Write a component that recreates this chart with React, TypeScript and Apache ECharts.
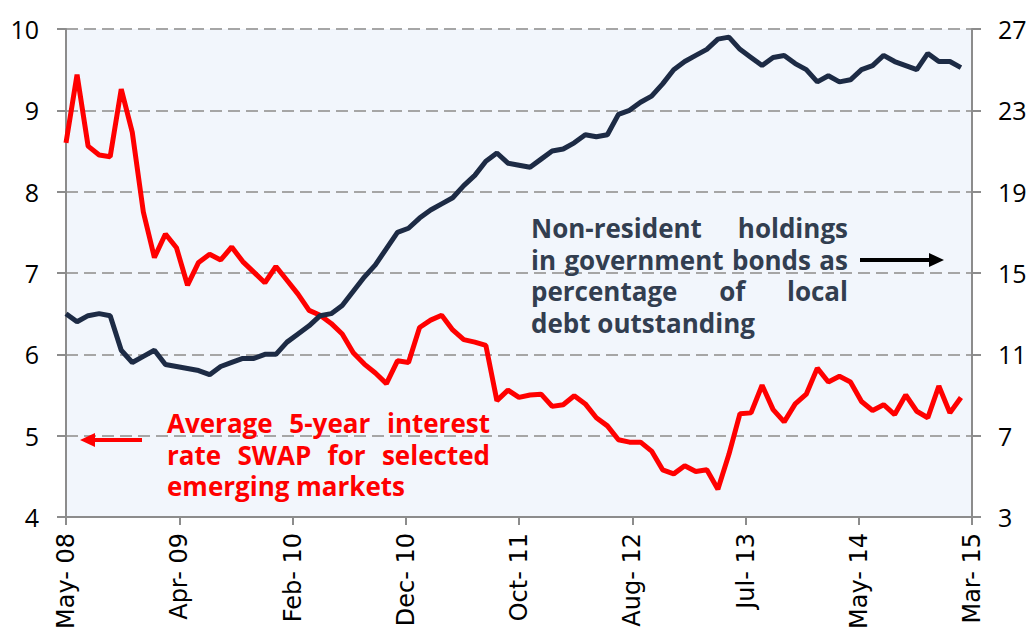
import React, { useEffect, useRef } from "react";
import * as echarts from "echarts";

// x: months since May 2008 (0 = May-08, 81 = Feb-15); axis ends at Mar-15 (82)
const xTickLabels = ["May- 08", "Apr- 09", "Feb- 10", "Dec- 10", "Oct- 11", "Aug- 12", "Jul- 13", "May- 14", "Mar- 15"];
const xTickStep = 10.25;

// Average 5-year interest rate swap (left axis, %)
const swapRate = [
  8.6, 9.44, 8.56, 8.45, 8.43, 9.26, 8.73, 7.75, 7.19, 7.48,
  7.31, 6.85, 7.13, 7.23, 7.16, 7.32, 7.14, 7.01, 6.88, 7.08,
  6.91, 6.74, 6.54, 6.48, 6.38, 6.25, 6.02, 5.88, 5.77, 5.64,
  5.92, 5.9, 6.33, 6.42, 6.48, 6.3, 6.18, 6.15, 6.11, 5.43,
  5.56, 5.47, 5.5, 5.51, 5.36, 5.38, 5.49, 5.39, 5.22, 5.12,
  4.95, 4.92, 4.92, 4.81, 4.58, 4.53, 4.63, 4.56, 4.58, 4.34,
  4.77, 5.27, 5.28, 5.62, 5.32, 5.17, 5.39, 5.51, 5.83, 5.66,
  5.73, 5.66, 5.42, 5.31, 5.38, 5.26, 5.5, 5.3, 5.22, 5.61,
  5.28, 5.47,
];

// Non-resident holdings of local government bonds (right axis, %)
const nonResidentHoldings = [
  13.0, 12.6, 12.9, 13.0, 12.9, 11.2, 10.6, 10.9, 11.2, 10.5,
  10.4, 10.3, 10.2, 10.0, 10.4, 10.6, 10.8, 10.8, 11.0, 11.0,
  11.6, 12.0, 12.4, 12.9, 13.0, 13.4, 14.1, 14.8, 15.4, 16.2,
  17.0, 17.2, 17.7, 18.1, 18.4, 18.7, 19.3, 19.8, 20.5, 20.9,
  20.4, 20.3, 20.2, 20.6, 21.0, 21.1, 21.4, 21.8, 21.7, 21.8,
  22.8, 23.0, 23.4, 23.7, 24.3, 25.0, 25.4, 25.7, 26.0, 26.5,
  26.6, 26.0, 25.6, 25.2, 25.6, 25.7, 25.3, 25.0, 24.4, 24.7,
  24.4, 24.5, 25.0, 25.2, 25.7, 25.4, 25.2, 25.0, 25.8, 25.4,
  25.4, 25.1,
];

const navyNoteLines = [
  ["Non-resident", "holdings"],
  ["in", "government", "bonds", "as"],
  ["percentage", "of", "local"],
  ["debt", "outstanding"],
];
const redNoteLines = [
  ["Average", "5-year", "interest"],
  ["rate", "SWAP", "for", "selected"],
  ["emerging", "markets"],
];

const NAVY = "#1d2b45";
const RED = "#ff0000";
const NOTE_NAVY = "#323e50";
const NOTE_FONT_FAMILY = '"Open Sans"';

function measure(text: string, font: string): number {
  const ctx = document.createElement("canvas").getContext("2d");
  if (!ctx) return text.length * 14;
  ctx.font = font;
  return ctx.measureText(text).width;
}

function noteBlock(lines: string[][], x0: number, x1: number, y0: number, lh: number, color: string, size: number) {
  const font = `bold ${size}px ${NOTE_FONT_FAMILY}`;
  const els: any[] = [];
  lines.forEach((words, li) => {
    const y = y0 + li * lh;
    const last = li === lines.length - 1;
    const base = { fill: color, fontSize: size, fontWeight: "bold", fontFamily: NOTE_FONT_FAMILY, textAlign: "left", textVerticalAlign: "middle", align: "left", verticalAlign: "middle" };
    if (last || words.length === 1) {
      els.push({ type: "text", x: x0, y, z: 100, style: { ...base, text: words.join(" ") } });
      return;
    }
    const widths = words.map((w) => measure(w, font));
    const total = widths.reduce((a, b) => a + b, 0);
    const gap = (x1 - x0 - total) / (words.length - 1);
    let cx = x0;
    words.forEach((w, wi) => {
      els.push({ type: "text", x: cx, y, z: 100, style: { ...base, text: w } });
      cx += widths[wi] + gap;
    });
  });
  return els;
}

export default function App() {
  const ref = useRef<HTMLDivElement>(null);
  useEffect(() => {
    if (!ref.current) return;
    const chart = echarts.init(ref.current, null, { renderer: "svg" });
    const axisColor = "#8c8c8c";
    const graphics: any[] = [
      ...noteBlock(navyNoteLines, 531, 848, 228, 31.5, NOTE_NAVY, 26),
      ...noteBlock(redNoteLines, 167, 490, 423, 31.5, RED, 26),
      { type: "line", z: 100, shape: { x1: 860, y1: 260, x2: 932, y2: 260 }, style: { stroke: "#000", lineWidth: 4 } },
      { type: "polygon", z: 100, shape: { points: [[929, 253], [944, 260], [929, 267]] }, style: { fill: "#000" } },
      { type: "line", z: 100, shape: { x1: 142, y1: 440, x2: 92, y2: 440 }, style: { stroke: RED, lineWidth: 4 } },
      { type: "polygon", z: 100, shape: { points: [[95, 433], [80, 440], [95, 447]] }, style: { fill: RED } },
    ];
    chart.setOption({
      animation: false,
      backgroundColor: "#ffffff",
      grid: { left: 66, right: 58, top: 29, bottom: 112, show: true, backgroundColor: "#f2f6fc", borderWidth: 0 },
      xAxis: {
        type: "value",
        min: 0,
        max: 82,
        interval: xTickStep,
        axisLine: { show: true, lineStyle: { color: axisColor, width: 2 } },
        axisTick: { show: true, length: 8, lineStyle: { color: axisColor, width: 2 } },
        splitLine: { show: false },
        axisLabel: {
          rotate: 90,
          margin: 16,
          fontSize: 24,
          fontFamily: "DejaVu Sans",
          color: "#000",
          formatter: (v: number) => xTickLabels[Math.round(v / xTickStep)] ?? "",
        },
      },
      yAxis: [
        {
          type: "value",
          position: "left",
          min: 4,
          max: 10,
          interval: 1,
          axisLine: { show: true, lineStyle: { color: axisColor, width: 2 } },
          axisTick: { show: true, length: 9, lineStyle: { color: axisColor, width: 2 } },
          splitLine: { show: true, lineStyle: { color: "#a6a6a6", width: 2, type: [12, 6] } },
          axisLabel: { margin: 27, fontSize: 25, fontFamily: "Open Sans", color: "#000" },
        },
        {
          type: "value",
          position: "right",
          min: 3,
          max: 27,
          interval: 4,
          axisLine: { show: true, lineStyle: { color: axisColor, width: 2 } },
          axisTick: { show: true, length: 9, lineStyle: { color: axisColor, width: 2 } },
          splitLine: { show: false },
          axisLabel: { margin: 26, fontSize: 25, fontFamily: "Open Sans", color: "#000" },
        },
      ],
      series: [
        {
          name: "Average 5-year interest rate SWAP",
          type: "line",
          yAxisIndex: 0,
          data: swapRate.map((v, i) => [i, v]),
          showSymbol: false,
          lineStyle: { color: RED, width: 5 },
          itemStyle: { color: RED },
          z: 3,
        },
        {
          name: "Non-resident holdings",
          type: "line",
          yAxisIndex: 1,
          data: nonResidentHoldings.map((v, i) => [i, v]),
          showSymbol: false,
          lineStyle: { color: NAVY, width: 5 },
          itemStyle: { color: NAVY },
          z: 4,
        },
      ],
      graphic: graphics,
    });
    return () => chart.dispose();
  }, []);
  return <div ref={ref} style={{ position: "fixed", left: 0, top: 0, width: 1030, height: 632 }} />;
}
